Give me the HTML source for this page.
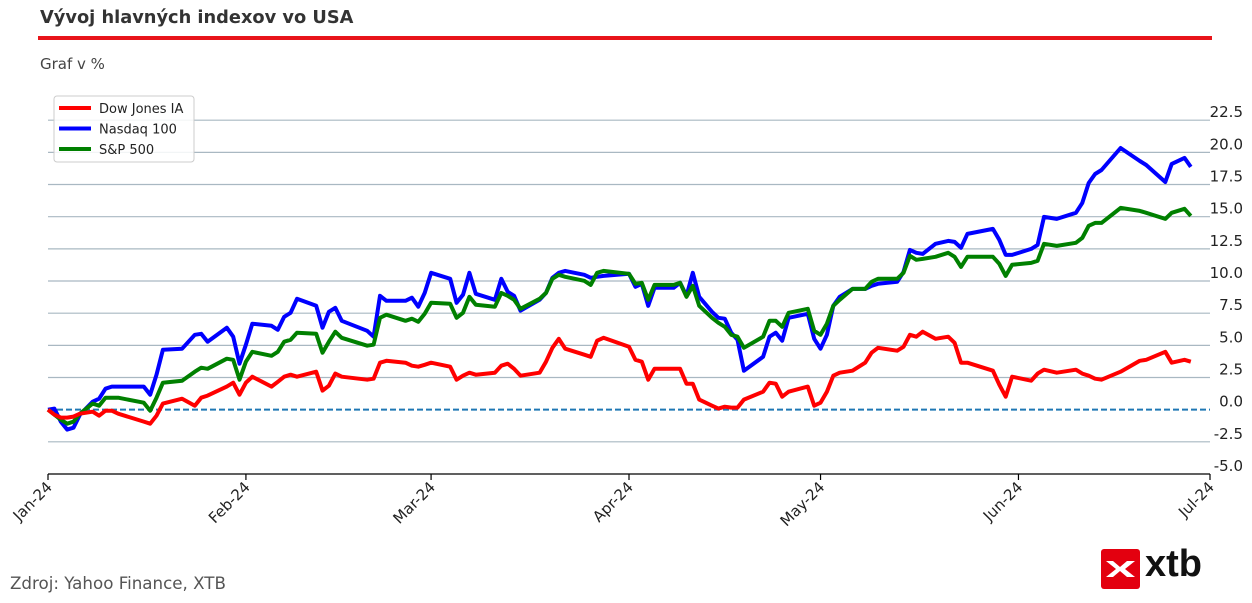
<!DOCTYPE html>
<html><head><meta charset="utf-8">
<style>
body{margin:0;width:1252px;height:603px;background:#fff;overflow:hidden;font-family:"DejaVu Sans","Liberation Sans",sans-serif;position:relative}
.title{position:absolute;left:40px;top:7px;font-size:17.8px;font-weight:bold;color:#333}
.rule{position:absolute;left:38px;top:36px;width:1174px;height:4px;background:#e8141a}
.sub{position:absolute;left:40px;top:55px;font-size:15px;color:#444}
.src{position:absolute;left:10px;top:573px;font-size:16.7px;color:#555}
.logo{position:absolute;left:1101px;top:549px;width:39px;height:40px;background:#e3000f;border-radius:3px}
.xtb{position:absolute;left:1145px;top:543px;font-size:38px;font-weight:bold;color:#111;font-family:"Liberation Sans",sans-serif}
svg{position:absolute;left:0;top:0}
</style></head><body>
<div class="title">Vývoj hlavných indexov vo USA</div>
<div class="rule"></div>
<div class="sub">Graf v %</div>
<svg id="chart" width="1252" height="603"></svg>
<div class="src">Zdroj: Yahoo Finance, XTB</div>
<div class="logo">
<svg width="39" height="40" viewBox="0 0 39 40"><path d="M5 12 L15 20 L5 28 L12 28 L19 22 L26 28 L34 28 L24 20 L34 12 L26 12 L19 18 L12 12 Z" fill="#fff"/></svg>
</div>
<div class="xtb">xtb</div>
<script>
const days=[0,1,2,3,4,5,7,8,9,10,11,15,16,17,18,21,23,24,25,28,29,30,31,32,35,36,37,38,39,42,43,44,45,46,50,51,52,53,56,57,58,59,60,63,64,65,66,67,70,71,72,73,74,77,78,79,80,81,84,85,86,87,91,92,93,94,95,98,99,100,101,102,104,105,106,107,108,109,112,113,114,115,116,119,120,121,122,123,124,126,128,129,130,133,134,135,136,137,139,141,142,143,144,148,149,150,151,154,155,156,158,161,162,163,164,165,168,171,172,175,176,178,179];
const dowJones=[0,-0.39,-0.62,-0.62,-0.54,-0.31,-0.16,-0.47,-0.08,-0.08,-0.31,-0.93,-1.09,-0.47,0.47,0.85,0.31,0.93,1.09,1.79,2.10,1.16,2.10,2.56,1.79,2.17,2.56,2.72,2.56,2.95,1.48,1.86,2.80,2.56,2.33,2.41,3.65,3.80,3.65,3.42,3.34,3.49,3.65,3.34,2.33,2.64,2.87,2.72,2.87,3.42,3.57,3.18,2.64,2.87,3.73,4.81,5.51,4.74,4.27,4.11,5.36,5.59,4.89,3.88,3.73,2.33,3.18,3.18,3.18,2.02,2.02,0.78,0.31,0.08,0.23,0.16,0.16,0.78,1.40,2.10,2.02,1.01,1.40,1.79,0.31,0.54,1.40,2.64,2.87,3.03,3.65,4.43,4.81,4.58,4.89,5.82,5.67,6.06,5.51,5.67,5.20,3.65,3.65,3.03,1.94,1.01,2.56,2.25,2.80,3.11,2.87,3.11,2.80,2.64,2.41,2.33,2.95,3.80,3.88,4.50,3.65,3.88,3.73];
const nasdaq=[0,0.08,-0.93,-1.55,-1.40,-0.39,0.62,0.85,1.63,1.79,1.79,1.79,1.16,2.72,4.66,4.74,5.82,5.90,5.28,6.37,5.67,3.57,5.05,6.68,6.52,6.21,7.22,7.53,8.62,8.07,6.37,7.61,7.92,6.91,6.13,5.67,8.85,8.46,8.46,8.70,8.00,9.08,10.64,10.17,8.31,8.93,10.64,9.01,8.54,10.17,9.16,8.85,7.69,8.54,9.08,10.25,10.64,10.79,10.48,10.25,10.33,10.40,10.56,9.55,9.78,8.07,9.47,9.47,9.86,8.85,10.64,8.77,7.61,7.14,7.07,5.98,5.43,3.03,4.11,5.67,5.98,5.36,7.14,7.45,5.51,4.74,5.82,8.07,8.77,9.39,9.39,9.63,9.78,9.94,10.71,12.42,12.19,12.11,12.89,13.12,13.04,12.58,13.66,14.05,13.20,12.03,12.03,12.50,12.81,14.98,14.83,15.30,16.07,17.62,18.32,18.63,20.34,19.33,19.02,17.70,19.10,19.57,18.87];
const sp500=[0,-0.39,-0.78,-1.09,-0.93,-0.31,0.47,0.31,0.93,0.93,0.93,0.54,-0.08,0.93,2.10,2.25,2.95,3.26,3.18,3.96,3.88,2.33,3.73,4.50,4.19,4.50,5.28,5.43,5.98,5.90,4.43,5.28,6.06,5.59,4.97,5.05,7.14,7.38,6.91,7.07,6.83,7.45,8.31,8.23,7.14,7.53,8.77,8.15,8.00,9.08,8.85,8.54,7.84,8.62,9.08,10.17,10.48,10.33,10.02,9.70,10.64,10.79,10.56,9.78,9.86,8.54,9.70,9.70,9.86,8.77,9.63,8.07,7.14,6.75,6.44,5.82,5.67,4.81,5.67,6.91,6.91,6.44,7.53,7.84,6.13,5.82,6.68,8.07,8.54,9.39,9.39,9.94,10.17,10.17,10.64,11.96,11.65,11.72,11.88,12.19,11.88,11.10,11.88,11.88,11.34,10.40,11.26,11.41,11.57,12.89,12.73,12.97,13.35,14.29,14.52,14.52,15.68,15.45,15.30,14.83,15.30,15.61,15.06];
const yTicks=[-5.0,-2.5,0.0,2.5,5.0,7.5,10.0,12.5,15.0,17.5,20.0,22.5];
const xTickDays=[0,31,60,91,121,152,182];
const xTickLabels=["Jan-24","Feb-24","Mar-24","Apr-24","May-24","Jun-24","Jul-24"];
const seriesNames=["Dow Jones IA","Nasdaq 100","S&P 500"];

const NS="http://www.w3.org/2000/svg";
const FONT='DejaVu Sans, Liberation Sans, sans-serif';
const svg=document.getElementById('chart');
const X0=48,X1=1210,Y0=474,Y1=120.2,VMIN=-5,VMAX=22.5,DMAX=182;
const xs=d=>X0+d*(X1-X0)/DMAX;
const ys=v=>Y0-(v-VMIN)*(Y0-Y1)/(VMAX-VMIN);
function mk(tag,attrs){const e=document.createElementNS(NS,tag);for(const k in attrs)e.setAttribute(k,attrs[k]);svg.appendChild(e);return e;}

yTicks.forEach(v=>{
  if(v!==0 && v!==VMIN){
    const g=mk('line',{x1:X0,x2:X1,y1:ys(v),y2:ys(v),stroke:'#a9b8c2','stroke-width':1.2});
    
    
  }
  const t=mk('text',{x:1243,y:ys(v)-3,'text-anchor':'end','font-size':15,fill:'#222','font-family':FONT});
  t.textContent=v.toFixed(1);
  
  
});
const zl=mk('line',{x1:X0,x2:X1,y1:ys(0),y2:ys(0),stroke:'#1f77b4','stroke-width':2,'stroke-dasharray':'6,3'});


const ax=mk('line',{x1:X0,x2:X1,y1:Y0,y2:Y0,stroke:'#000','stroke-width':1.2});


xTickDays.forEach((d,i)=>{
  const tk=mk('line',{x1:xs(d),x2:xs(d),y1:Y0,y2:Y0+6,stroke:'#000','stroke-width':1.2});
  
  
  const t=mk('text',{x:xs(d)+5,y:Y0+14,'text-anchor':'end','font-size':15,fill:'#222','font-family':FONT,transform:`rotate(-45 ${xs(d)+5} ${Y0+14})`});
  t.textContent=xTickLabels[i];
  
  
});
const colors=['#ff0000','#0000ff','#008000'];
const allSeries=[dowJones,nasdaq,sp500];
const order=[1,2,0];
order.forEach(si=>{
  const vals=allSeries[si];
  const n=Math.min(vals.length,days.length);
  let d='';
  for(let i=0;i<n;i++)d+=(i?'L':'M')+xs(days[i]).toFixed(1)+' '+ys(vals[i]).toFixed(1);
  const p=mk('path',{d:d,fill:'none',stroke:colors[si],'stroke-width':4,'stroke-linejoin':'round'});
  
  
});
const lb=mk('rect',{x:54,y:96,width:140,height:66,rx:3,fill:'#fff','fill-opacity':0.85,stroke:'#ccc'});


seriesNames.forEach((nm,i)=>{
  const y=108+i*20.5;
  const l=mk('line',{x1:59,x2:91,y1:y,y2:y,stroke:colors[i],'stroke-width':4});
  
  
  const t=mk('text',{x:99,y:y+5,'font-size':13,fill:'#222','font-family':FONT});
  t.textContent=nm;
  
  
});
</script>
</body></html>
